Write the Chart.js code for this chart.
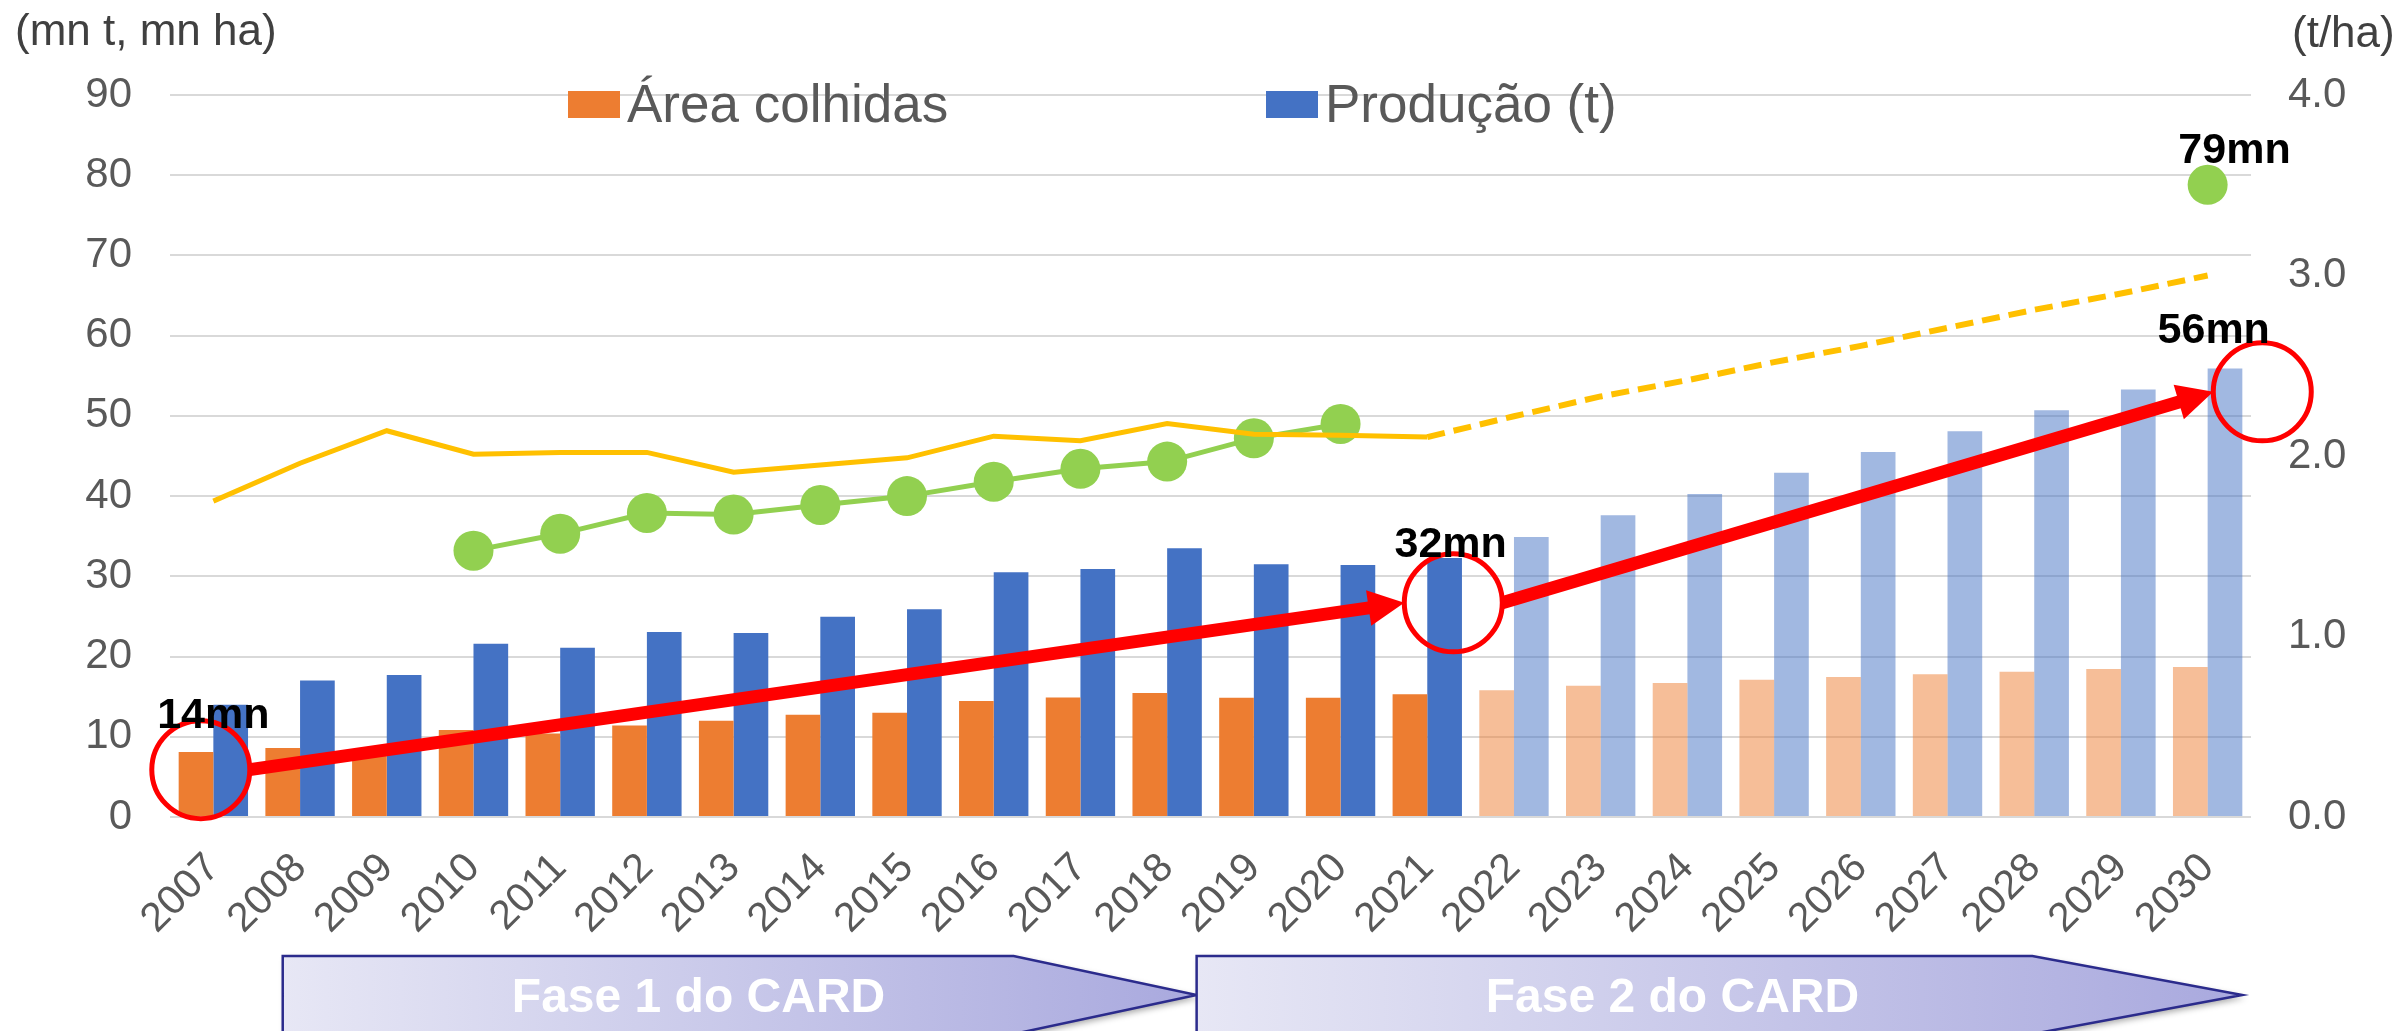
<!DOCTYPE html>
<html>
<head>
<meta charset="utf-8">
<title>Produção de arroz - CARD</title>
<script src="https://cdn.jsdelivr.net/npm/chart.js@4.4.1/dist/chart.umd.min.js"></script>
<style>
  html, body { margin: 0; padding: 0; background: #fff; }
  #wrap { width: 2407px; height: 1031px; position: relative; }
</style>
</head>
<body>
<div id="wrap"><canvas id="cardChart"></canvas></div>
<script>
// Data
const years = ["2007", "2008", "2009", "2010", "2011", "2012", "2013", "2014", "2015", "2016", "2017", "2018",
               "2019", "2020", "2021", "2022", "2023", "2024", "2025", "2026", "2027", "2028", "2029", "2030"];
const firstProjectedYear = "2022";

// mn ha
const areaHarvested = [8.1, 8.6, 8.3, 10.85, 10.4, 11.4, 12.0, 12.75, 13.0, 14.45, 14.9, 15.45,
                       14.85, 14.85, 15.3, 15.8, 16.35, 16.7, 17.1, 17.45, 17.8, 18.1, 18.45, 18.7];
// mn t
const production = [14.0, 17.0, 17.7, 21.6, 21.1, 23.05, 22.95, 24.95, 25.9, 30.5, 30.9, 33.5,
                    31.5, 31.4, 32.3, 34.9, 37.6, 40.25, 42.9, 45.5, 48.1, 50.7, 53.3, 55.9];
// t/ha, right axis
const yieldActual = [1.75, 1.96, 2.14, 2.01, 2.02, 2.02, 1.91, 1.95, 1.99, 2.11, 2.085, 2.18,
                     2.12, 2.115, 2.105, null, null, null, null, null, null, null, null, null];
const yieldTarget = [null, null, null, null, null, null, null, null, null, null, null, null,
                     null, null, 2.105, 2.22, 2.33, 2.42, 2.52, 2.61, 2.71, 2.81, 2.90, 3.0];
// unlabelled green series, left axis
const greenSeries = [null, null, null, 33.2, 35.3, 37.9, 37.7, 38.9, 40.0, 41.8, 43.4, 44.3,
                     47.2, 49.0, null, null, null, null, null, null, null, null, null, 78.8];

const leftTicks = { min: 0, max: 90, step: 10 };
const rightTicks = { min: 0, max: 4, step: 1 };

// callouts: category index (fractional) + left-axis value
const callouts = [
    { text: "14mn", at: 0.0, value: 11.1 },
    { text: "32mn", at: 14.27, value: 32.4 },
    { text: "56mn", at: 23.07, value: 59.1 },
    { text: "79mn", at: 23.31, value: 81.5 },
];
const rings = [
    { at: -0.145, value: 5.9 },
    { at: 14.3, value: 26.7 },
    { at: 23.63, value: 53.0 },
];
const phases = [
    { label: "Fase 1 do CARD", from: 0.8, to: 11.34, tip: 183 },
    { label: "Fase 2 do CARD", from: 11.34, to: 23.4, tip: 210 },
];

const FONT = "'Liberation Sans', Arial, sans-serif";
const GREY = "#595959";
const firstProjected = years.indexOf(firstProjectedYear);

const areaColors = years.map((y, i) => i >= firstProjected ? "rgba(237,125,49,0.5)" : "#ed7d31");
const prodColors = years.map((y, i) => i >= firstProjected ? "rgba(68,114,196,0.5)" : "#4472c4");

const legendItems = [
    { text: "Área colhidas", color: "#ed7d31", x: 568 },
    { text: "Produção (t)", color: "#4472c4", x: 1266 },
];

// Draws the red rings, arrows and "mn" callouts
const annotationPlugin = {
    id: "annotations",
    afterDatasetsDraw(chart) {
        const ctx = chart.ctx;
        const xs = chart.scales.x;
        const ys = chart.scales.y;
        const r = 49;
        const centers = rings.map((c) => ({ x: xs.getPixelForValue(c.at), y: ys.getPixelForValue(c.value) }));

        ctx.save();
        // arrows between rings
        ctx.fillStyle = "#ff0000";
        ctx.strokeStyle = "#ff0000";
        for (let i = 0; i < centers.length - 1; i++) {
            const sx = centers[i].x + r, sy = centers[i].y;
            const ex = centers[i + 1].x - r, ey = centers[i + 1].y;
            const len = Math.hypot(ex - sx, ey - sy);
            const ux = (ex - sx) / len, uy = (ey - sy) / len;
            const headLen = 36, headHalf = 18;
            const bx = ex - ux * headLen, by = ey - uy * headLen;
            ctx.lineWidth = 13;
            ctx.lineCap = "butt";
            ctx.beginPath();
            ctx.moveTo(sx, sy);
            ctx.lineTo(bx + ux * 2, by + uy * 2);
            ctx.stroke();
            ctx.beginPath();
            ctx.moveTo(ex, ey);
            ctx.lineTo(bx - uy * headHalf, by + ux * headHalf);
            ctx.lineTo(bx + uy * headHalf, by - ux * headHalf);
            ctx.closePath();
            ctx.fill();
        }
        // rings
        ctx.lineWidth = 5;
        centers.forEach((c) => {
            ctx.beginPath();
            ctx.arc(c.x, c.y, r, 0, Math.PI * 2);
            ctx.stroke();
        });
        // callout labels
        ctx.fillStyle = "#000";
        ctx.font = "bold 43px " + FONT;
        ctx.textAlign = "center";
        ctx.textBaseline = "alphabetic";
        callouts.forEach((c) => {
            ctx.fillText(c.text, xs.getPixelForValue(c.at), ys.getPixelForValue(c.value));
        });
        ctx.restore();
    },
    afterDraw(chart) {
        const ctx = chart.ctx;
        const xs = chart.scales.x;
        ctx.save();

        // axis unit titles
        ctx.fillStyle = "#404040";
        ctx.font = "44px " + FONT;
        ctx.textBaseline = "alphabetic";
        ctx.textAlign = "left";
        ctx.fillText("(mn t, mn ha)", 15, 45);
        ctx.fillText("(t/ha)", 2292, 47);

        // legend
        ctx.font = "53px " + FONT;
        legendItems.forEach((item) => {
            ctx.fillStyle = item.color;
            ctx.fillRect(item.x, 91, 52, 27);
            ctx.fillStyle = GREY;
            ctx.fillText(item.text, item.x + 59, 121.5);
        });

        // phase arrows under the axis
        const top = 956, mid = 995, half = mid - top;
        phases.forEach((p) => {
            const left = xs.getPixelForValue(p.from);
            const tipX = xs.getPixelForValue(p.to);
            const shoulder = tipX - p.tip;
            const grad = ctx.createLinearGradient(left, 0, tipX, 0);
            grad.addColorStop(0, "#e7e7f5");
            grad.addColorStop(1, "#a9a9de");
            ctx.save();
            ctx.beginPath();
            ctx.moveTo(left, top);
            ctx.lineTo(shoulder, top);
            ctx.lineTo(tipX, mid);
            ctx.lineTo(shoulder, mid + half);
            ctx.lineTo(left, mid + half);
            ctx.closePath();
            ctx.shadowColor = "rgba(0,0,0,0.35)";
            ctx.shadowBlur = 6;
            ctx.shadowOffsetX = 3;
            ctx.shadowOffsetY = 3;
            ctx.fillStyle = grad;
            ctx.fill();
            ctx.shadowColor = "transparent";
            ctx.lineWidth = 2.5;
            ctx.strokeStyle = "#2b2b8c";
            ctx.stroke();
            ctx.restore();

            ctx.fillStyle = "#ffffff";
            ctx.font = "bold 48px " + FONT;
            ctx.textAlign = "center";
            ctx.textBaseline = "alphabetic";
            ctx.fillText(p.label, left + (tipX - left) * 0.455, 1012);
        });
        ctx.restore();
    },
};

document.addEventListener("DOMContentLoaded", function () {
    const ctx = document.getElementById("cardChart");

    new Chart(ctx.getContext("2d"), {
        type: "bar",
        data: {
            labels: years,
            datasets: [
                {
                    type: "line",
                    label: "Rendimento",
                    data: yieldActual,
                    yAxisID: "y1",
                    borderColor: "#ffc000",
                    borderWidth: 5,
                    pointRadius: 0,
                    tension: 0,
                    order: 0,
                },
                {
                    type: "line",
                    label: "Rendimento (meta)",
                    data: yieldTarget,
                    yAxisID: "y1",
                    borderColor: "#ffc000",
                    borderWidth: 6,
                    borderDash: [18, 9],
                    pointRadius: 0,
                    tension: 0,
                    order: 0,
                },
                {
                    type: "line",
                    label: "green",
                    data: greenSeries,
                    yAxisID: "y",
                    borderColor: "#92d050",
                    backgroundColor: "#92d050",
                    borderWidth: 5,
                    pointRadius: 20,
                    pointBorderWidth: 0,
                    pointBackgroundColor: "#92d050",
                    spanGaps: false,
                    order: 1,
                },
                {
                    label: "Área colhidas",
                    data: areaHarvested,
                    yAxisID: "y",
                    backgroundColor: areaColors,
                    borderWidth: 0,
                    categoryPercentage: 0.8,
                    barPercentage: 1.0,
                    order: 2,
                },
                {
                    label: "Produção (t)",
                    data: production,
                    yAxisID: "y",
                    backgroundColor: prodColors,
                    borderWidth: 0,
                    categoryPercentage: 0.8,
                    barPercentage: 1.0,
                    order: 2,
                },
            ],
        },
        options: {
            responsive: true,
            maintainAspectRatio: false,
            animation: false,
            layout: { padding: { top: 95, left: 0, right: 0, bottom: 0 } },
            scales: {
                x: {
                    grid: { display: false, drawTicks: false },
                    border: { display: false },
                    ticks: {
                        color: GREY,
                        font: { family: FONT, size: 41 },
                        maxRotation: 45,
                        minRotation: 45,
                        autoSkip: false,
                        padding: 27,
                    },
                    afterFit: function (scale) {
                        scale.height = 214;
                    },
                },
                y: {
                    position: "left",
                    min: leftTicks.min,
                    max: leftTicks.max,
                    ticks: {
                        stepSize: leftTicks.step,
                        color: GREY,
                        font: { family: FONT, size: 42 },
                        padding: 38,
                    },
                    grid: { color: "#d9d9d9", lineWidth: 2, drawTicks: false },
                    border: { display: false },
                    afterFit: function (scale) {
                        scale.width = 170;
                    },
                },
                y1: {
                    position: "right",
                    min: rightTicks.min,
                    max: rightTicks.max,
                    ticks: {
                        stepSize: rightTicks.step,
                        color: GREY,
                        font: { family: FONT, size: 42 },
                        padding: 37,
                        callback: function (value) {
                            return value.toFixed(1);
                        },
                    },
                    grid: { display: false, drawTicks: false },
                    border: { display: false },
                    afterFit: function (scale) {
                        scale.width = 156;
                    },
                },
            },
            plugins: {
                legend: { display: false },
                tooltip: { enabled: false },
            },
        },
        plugins: [annotationPlugin],
    });
});
</script>
</body>
</html>
